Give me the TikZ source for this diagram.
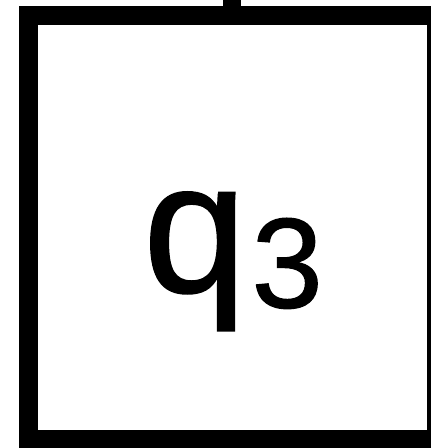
\documentclass[tikz,border=0pt]{standalone}
\usepackage{fontspec}
\setmainfont{Liberation Sans}
\newfontfamily\statefont[FakeBold=1]{Liberation Sans}
\tikzset{
  statebox/.style={draw, line width=18.5pt, rectangle, minimum width=407.5pt, minimum height=423.5pt, inner sep=0pt},
  statetext/.style={anchor=base, inner sep=0pt, font=\statefont\fontsize{186}{186}\selectfont}
}
\begin{document}
\begin{tikzpicture}[x=1pt,y=1pt]
\useasboundingbox (0,-448) rectangle (431,0);
\node[statebox] (q3) at (232,-227.25) {};
\coordinate (qin) at (232,20);
\draw[line width=18.5pt] (qin) -- (q3.north);
\node[statetext] (q3text) at (233,-292) {q\kern5pt\raisebox{-15.5pt}{\fontsize{128}{128}\selectfont 3}};
\end{tikzpicture}
\end{document}
